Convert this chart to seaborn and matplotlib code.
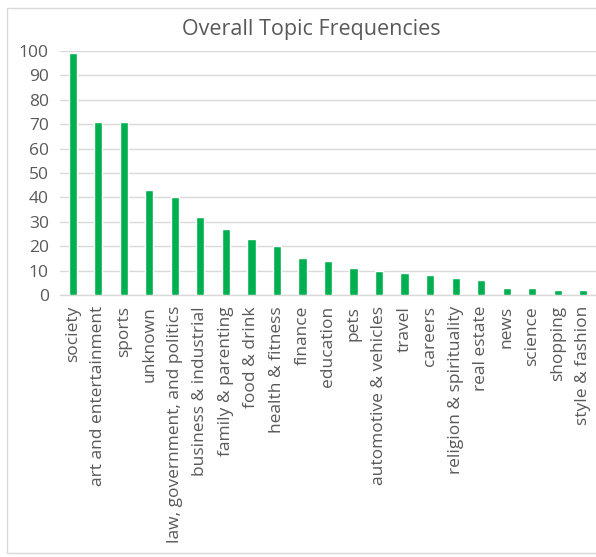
import numpy as np
import pandas as pd
import seaborn as sns
import matplotlib.pyplot as plt
from matplotlib.patches import Rectangle

topics = ['society', 'art and entertainment', 'sports', 'unknown',
          'law, government, and politics', 'business & industrial',
          'family & parenting', 'food & drink', 'health & fitness', 'finance',
          'education', 'pets', 'automotive & vehicles', 'travel', 'careers',
          'religion & spirituality', 'real estate', 'news', 'science',
          'shopping', 'style & fashion']
counts = [99, 71, 71, 43, 40, 32, 27, 23, 20, 15, 14, 11, 10, 9, 8, 7, 6, 3, 3, 2, 2]
y_ticks = list(range(0, 101, 10))

df = pd.DataFrame({'Topic': topics, 'Count': counts})

sns.set_style('white')
plt.rcParams['font.family'] = ['Open Sans', 'DejaVu Sans']
text_color = '#595959'

fig = plt.figure(figsize=(5.96, 5.57), dpi=100)
ax = fig.add_axes([60 / 596, (557 - 295) / 557, 536 / 596, 244 / 557])

sns.barplot(data=df, x='Topic', y='Count', color='#00b050', width=0.32,
            saturation=1, ax=ax, zorder=3)

ax.set_ylim(0, 100)
ax.set_xlim(-0.5, len(topics) - 0.5)
ax.set_yticks(y_ticks)
ax.yaxis.grid(True, color='#d9d9d9', linewidth=1, zorder=0)
ax.set_axisbelow(True)
for s in ['top', 'right', 'left']:
    ax.spines[s].set_visible(False)
ax.spines['bottom'].set_color('#d9d9d9')
ax.spines['bottom'].set_linewidth(1)
ax.tick_params(axis='both', length=0, colors=text_color)
ax.tick_params(axis='y', pad=8, labelsize=12.5)
ax.tick_params(axis='x', pad=8, labelsize=12.5)
plt.setp(ax.get_xticklabels(), rotation=90)
ax.set_xlabel('')
ax.set_ylabel('')

fig.text(311 / 596, 1 - 29 / 557, 'Overall Topic Frequencies', ha='center',
         va='center', fontsize=15.5, color=text_color)

fig.patches.append(Rectangle((7.5 / 596, 1 - 552.5 / 557), 600 / 596, 545 / 557,
                             transform=fig.transFigure, fill=False,
                             edgecolor='#d9d9d9', linewidth=1))

fig.savefig('out.png', dpi=100)
